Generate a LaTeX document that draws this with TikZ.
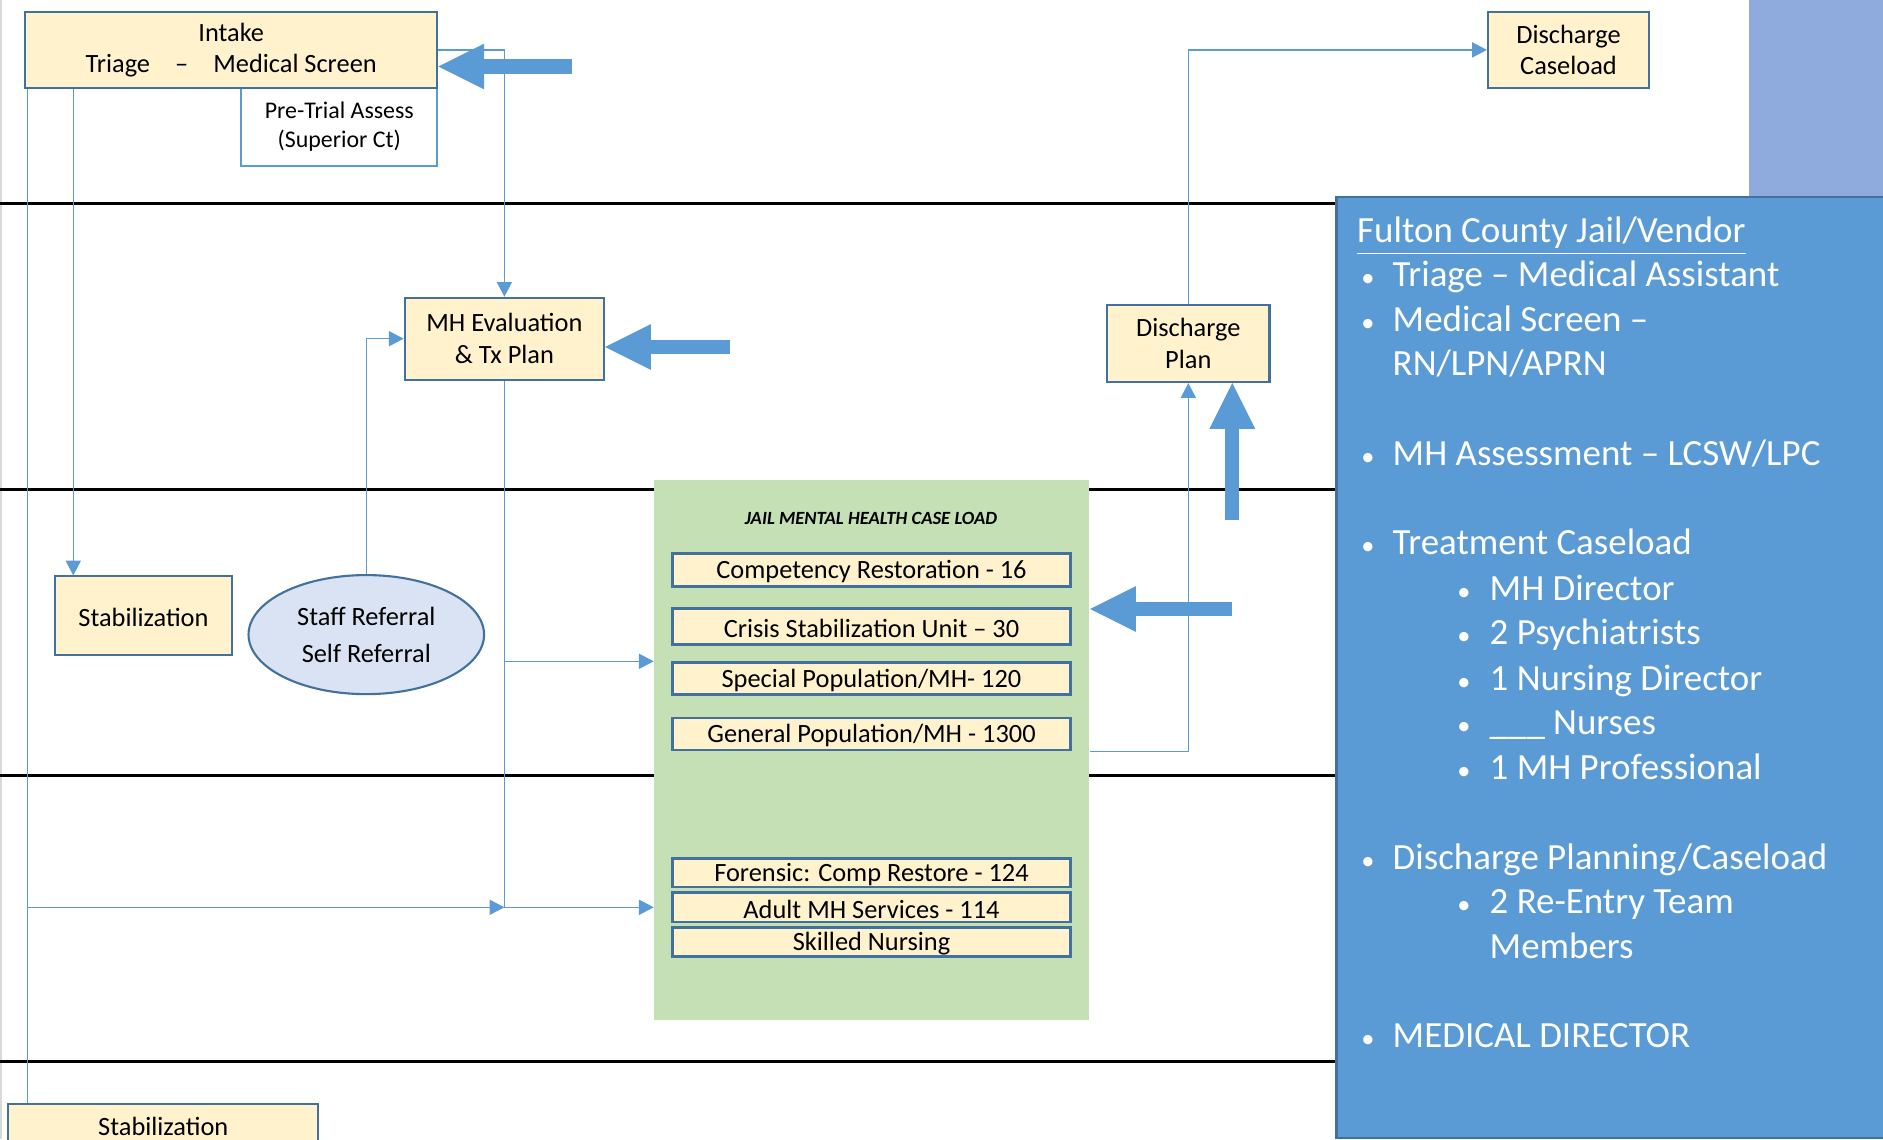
\documentclass[tikz,border=0pt]{standalone}
\usepackage{fontspec}
\setmainfont{Carlito}
\usepackage{tikz}
\usetikzlibrary{arrows.meta, shapes.geometric}

\definecolor{boxfill}{HTML}{FFF2CC}
\definecolor{boxline}{HTML}{41719C}
\definecolor{linkblue}{HTML}{5B9BD5}
\definecolor{cornerblue}{HTML}{8FAADC}
\definecolor{loadgreen}{HTML}{C5E0B4}
\definecolor{ovalfill}{HTML}{DAE3F3}

\begin{document}
\begin{tikzpicture}[x=0.01cm, y=-0.01cm,
	box/.style={draw=boxline, fill=boxfill, line width=0.6pt, inner sep=0pt, align=center, font=\fontsize{7.5}{8.9}\selectfont},
	oneline/.style={box, text height=6.2pt},
	loadbox/.style={oneline, line width=0.8pt, minimum width=3.98cm},
	wire/.style={color=linkblue, line width=0.35pt},
	flow/.style={wire, -{Triangle[length=4.2pt,width=4.3pt]}},
	fatarrow/.style={color=linkblue, line width=4pt, -{Triangle[length=13pt,width=13pt,line width=0pt]}},
	item/.style={anchor=mid west, text=white, inner sep=0pt, font=\fontsize{10.5}{12.6}\selectfont},
	dot/.style={item, font=\fontsize{7.5}{9}\selectfont}]
	\useasboundingbox (0,0) rectangle (1883,1139);
	\draw[black!15, line width=0.4pt] (1,0) -- (1,1139);
	\foreach \y in {203.5,489.6,775.7,1061.8}
		\draw[line width=0.85pt] (0,\y) -- (1335.4,\y);
	\fill[cornerblue] (1748.5,0) rectangle (1890,195.7);
	\node[fill=linkblue, draw=boxline, line width=0.6pt, anchor=north west, inner sep=0pt, minimum width=5.6cm, minimum height=9.403cm] (vendor) at (1335.4,195.7) {};
	\node[fill=loadgreen, inner sep=0pt, minimum width=4.347cm, minimum height=5.392cm] (caseload) at (871.9,750) {};

	\node[box, draw=linkblue, fill=white, minimum width=1.957cm, minimum height=0.78cm, font=\fontsize{6.8}{8.2}\selectfont] (pretrial) at (339.3,126.7) {Pre-Trial Assess\\(Superior Ct)};
	\node[box, minimum width=4.12cm, minimum height=0.757cm] (intake) at (231.2,49.9) {Intake\\Triage\hspace{0.95em}–\hspace{0.95em}Medical Screen};
	\node[box, minimum width=1.993cm, minimum height=0.817cm, font=\fontsize{7.5}{9.2}\selectfont] (mheval) at (504.4,338.7) {MH Evaluation\\\& Tx Plan};
	\node[box, minimum width=1.622cm, minimum height=0.77cm] (dplan) at (1188.3,343.5) {Discharge\\Plan};
	\node[box, minimum width=1.61cm, minimum height=0.757cm] (dcase) at (1568.5,49.9) {Discharge\\Caseload};
	\node[oneline, minimum width=1.766cm, minimum height=0.781cm] (stabA) at (143.5,615.5) {Stabilization};
	\node[oneline, minimum width=3.098cm, minimum height=0.428cm] (stabB) at (163.3,1125) {Stabilization};
	\node[ellipse, draw=boxline, fill=ovalfill, line width=0.6pt, inner sep=0pt, minimum width=2.354cm, minimum height=1.19cm, align=center, font=\fontsize{7.5}{10.5}\selectfont] (referral) at (366.3,634.6) {Staff Referral\\Self Referral};

	\node[font=\fontsize{5.3}{6}\selectfont\bfseries\itshape] (loadtitle) at (871,518.8) {JAIL MENTAL HEALTH CASE LOAD};
	\node[loadbox, minimum height=0.33cm] (comp) at (871.5,570) {Competency Restoration - 16};
	\node[loadbox, minimum height=0.355cm] (crisis) at (871.5,626.5) {Crisis Stabilization Unit – 30};
	\node[loadbox, minimum height=0.32cm] (special) at (871.5,678.7) {Special Population/MH- 120};
	\node[loadbox, minimum height=0.32cm] (general) at (871.5,733.9) {General Population/MH - 1300};
	\node[loadbox, minimum height=0.285cm] (forensic) at (871.5,872.8) {Forensic: Comp Restore - 124};
	\node[loadbox, minimum height=0.295cm] (adult) at (871.5,907.3) {Adult MH Services - 114};
	\node[loadbox, minimum height=0.29cm] (skilled) at (871.5,941.9) {Skilled Nursing};

	\coordinate (trunk) at (27.3,0);
	\coordinate (stabin) at (73.3,0);
	\draw[flow] (intake.east) -| (mheval.north);
	\draw[flow] (stabin |- intake.south) -- (stabin |- stabA.north);
	\draw[wire] (trunk |- intake.south) -- (trunk |- stabB.north);
	\draw[flow] (trunk |- adult) -- (mheval.south |- adult);
	\draw[flow] (mheval.south) |- (adult -| caseload.west);
	\draw[flow] (mheval.south |- special.north) -- (special.north -| caseload.west);
	\draw[flow] (referral.north) |- (mheval.west);
	\draw[flow] (general.south -| caseload.east) -| (dplan.south);
	\draw[flow] (dplan.north) |- (dcase.west);

	\draw[fatarrow] (571.5,66.5) -- (intake.east |- 0,66.5);
	\draw[fatarrow] (730,347) -- (mheval.east |- 0,347);
	\draw[fatarrow] (1232.3,520) -- (dplan.south -| 1232.3,0);
	\draw[fatarrow] (1232.3,609) -- (caseload.east |- 0,609);

	\node[item] (title) at (1356.5,234) {\underline{Fulton County Jail/Vendor}};
	\foreach \y/\t [count=\i] in {278.5/{Triage – Medical Assistant}, 323/{Medical Screen –}, 457.4/{MH Assessment – LCSW/LPC}, 546.3/{Treatment Caseload}, 861/{Discharge Planning/Caseload}, 1038.7/{MEDICAL DIRECTOR}} {
		\node[dot] (dotA\i) at (1360.6,\y) {\textbullet};
		\node[item] (lineA\i) at (1392,\y) {\t};
	}
	\node[item] (aprn) at (1392,367.4) {RN/LPN/APRN};
	\foreach \y/\t [count=\i] in {592/{MH Director}, 636.4/{2 Psychiatrists}, 682/{1 Nursing Director}, 726.4/{\_\_\_ Nurses}, 771/{1 MH Professional}, 905.4/{2 Re-Entry Team}} {
		\node[dot] (dotB\i) at (1456.7,\y) {\textbullet};
		\node[item] (lineB\i) at (1489,\y) {\t};
	}
	\node[item] (members) at (1489,950) {Members};
\end{tikzpicture}
\end{document}
